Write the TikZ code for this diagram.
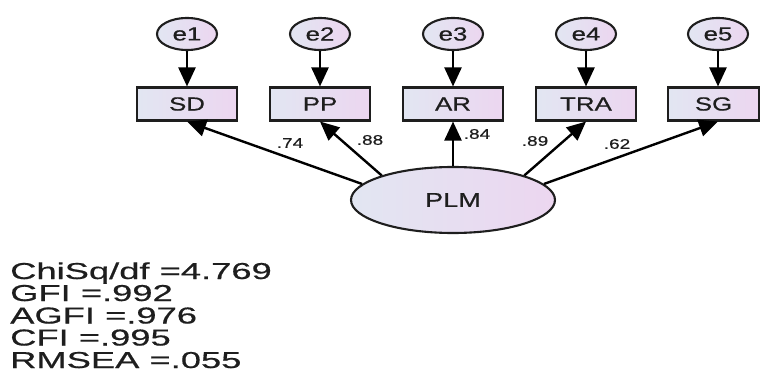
\documentclass[tikz,border=0pt]{standalone}
\usepackage{fontspec}
\setmainfont{Liberation Sans}
\newfontfamily\widesans[FakeStretch=1.58,FakeBold=0.6]{Liberation Sans}
\newfontfamily\midsans[FakeStretch=1.36,FakeBold=0.6]{Liberation Sans}
\usetikzlibrary{arrows.meta,shapes.geometric}
\definecolor{fillL}{RGB}{226,230,242}
\definecolor{fillR}{RGB}{236,214,240}
\definecolor{ink}{RGB}{30,30,30}
\begin{document}
\begin{tikzpicture}[x=1pt,y=-1pt,
  errnode/.style={ellipse, draw=ink, line width=2.1pt, minimum width=60pt,
    minimum height=32pt, inner sep=0pt, left color=fillL, right color=fillR,
    text=ink, font=\midsans\fontsize{19}{19}\selectfont},
  obsbox/.style={rectangle, draw=ink, line width=2.1pt, minimum width=100pt,
    minimum height=33pt, inner sep=0pt, left color=fillL, right color=fillR,
    text=ink, font=\midsans\fontsize{19}{19}\selectfont},
  latent/.style={ellipse, draw=ink, line width=2.1pt, minimum width=204pt,
    minimum height=66pt, inner sep=0pt, left color=fillL, right color=fillR,
    text=ink, font=\midsans\fontsize{20}{20}\selectfont},
  pathline/.style={draw=black, line width=2.4pt,
    -{Triangle[length=19pt,width=17pt]}},
  coef/.style={inner sep=0pt, text=ink, font=\midsans\fontsize{14}{14}\selectfont},
  fitline/.style={anchor=base west, inner sep=0pt, text=ink,
    font=\widesans\fontsize{23}{23}\selectfont}
]
\useasboundingbox (0,0) rectangle (760,374);

% error terms
\node[errnode] (e1) at (187,34) {e1};
\node[errnode] (e2) at (320,34) {e2};
\node[errnode] (e3) at (453,34) {e3};
\node[errnode] (e4) at (586,34) {e4};
\node[errnode] (e5) at (718,34) {e5};

% observed indicators
\node[obsbox] (SD)  at (187,104) {SD};
\node[obsbox] (PP)  at (320,104) {PP};
\node[obsbox] (AR)  at (453,104) {AR};
\node[obsbox] (TRA) at (586,104) {TRA};
\node[obsbox, minimum width=91pt] (SG) at (713.5,104) {SG};

% latent factor
\node[latent] (PLM) at (453,200) {PLM};

% error paths
\draw[pathline] (e1) -- (SD);
\draw[pathline] (e2) -- (PP);
\draw[pathline] (e3) -- (AR);
\draw[pathline] (e4) -- (TRA);
\coordinate (sgtop) at (e5 |- SG.north);
\coordinate (sgbot) at (e5 |- SG.south);
\draw[pathline] (e5) -- (sgtop);

% loadings
\draw[pathline] (PLM.170) -- (SD.south);
\draw[pathline] (PLM.161) -- (PP.south);
\draw[pathline] (PLM.north) -- (AR.south);
\draw[pathline] (PLM.19) -- (TRA.south);
\draw[pathline] (PLM.10) -- (sgbot);

\node[coef] (l1) at (290,143) {.74};
\node[coef] (l2) at (370,140) {.88};
\node[coef] (l3) at (477,134) {.84};
\node[coef] (l4) at (535,141) {.89};
\node[coef] (l5) at (617,144) {.62};

% fit indices
\node[fitline] (f1) at (10,279) {ChiSq/df =4.769};
\node[fitline] (f2) at (10,301) {GFI =.992};
\node[fitline] (f3) at (10,323.5) {AGFI =.976};
\node[fitline] (f4) at (10,345.5) {CFI =.995};
\node[fitline] (f5) at (10,368) {RMSEA =.055};
\end{tikzpicture}
\end{document}
